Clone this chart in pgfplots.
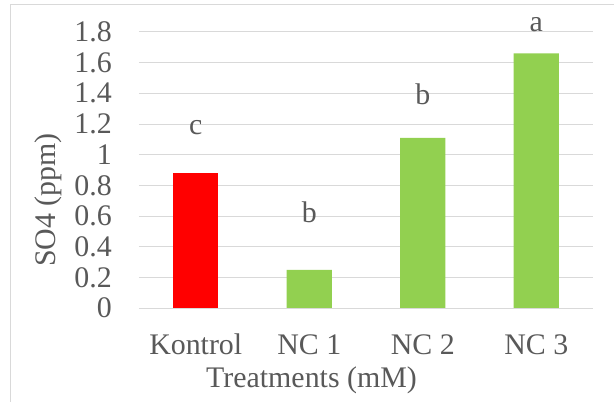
\documentclass[border=0pt]{standalone}
\usepackage{pgfplots}
\pgfplotsset{compat=1.18}
\usepackage{fontspec}
\setmainfont{Liberation Serif}
\definecolor{txt}{HTML}{595959}
\definecolor{grd}{HTML}{D9D9D9}
\definecolor{barred}{HTML}{FF0000}
\definecolor{bargreen}{HTML}{92D050}
\begin{document}
\begin{tikzpicture}
\path[use as bounding box] (-139bp,-94bp) rectangle (475bp,308bp);
\draw[grd, line width=1bp] (-128bp,-95bp) -- (-128bp,303bp) -- (476bp,303bp);
\begin{axis}[
  name=ax, at={(0,0)}, anchor=south west,
  scale only axis, width=454bp, height=276bp,
  xmin=-0.5, xmax=3.5, ymin=0, ymax=1.8,
  xtick={0,1,2,3}, xticklabels={Kontrol,NC 1,NC 2,NC 3},
  ytick={0,0.2,...,1.8},
  yticklabels={0,0.2,0.4,0.6,0.8,1,1.2,1.4,1.6,1.8},
  ymajorgrids, grid style={grd, line width=1bp},
  axis line style={draw=none},
  axis x line*=bottom,
  major tick length=0pt,
  tick style={draw=none},
  font=\fontsize{30}{36}\selectfont,
  every tick label/.append style={font=\fontsize{30}{36}\selectfont, text=txt},
  xticklabel style={anchor=base, inner sep=0pt, yshift=-46bp},
  yticklabel style={anchor=east, inner sep=0pt, xshift=-27bp},
  /pgf/number format/assume math mode=true,
  xlabel={\textcolor{txt}{Treatments (mM)}}, ylabel={\textcolor{txt}{SO4 (ppm)}},
  every axis x label/.style={at={(axis description cs:0.380,-0.261)}, anchor=center, inner sep=0pt, text=txt, font=\fontsize{30}{36}\selectfont},
  every axis y label/.style={at={(axis description cs:-0.200,0.391)}, rotate=90, anchor=center, inner sep=0pt, text=txt, font=\fontsize{30}{36}\selectfont},
  clip=false,
  ybar, bar width=0.4, bar shift=0pt,
]
\addplot[fill=barred, draw=none] coordinates {(0,0.878)};
\addplot[fill=bargreen, draw=none] coordinates {(1,0.248) (2,1.109) (3,1.661)};
\draw[grd, line width=1bp] (axis cs:-0.5,0) -- (axis cs:3.5,0);
\node[text=txt, inner sep=0pt, anchor=center, font=\fontsize{30}{36}\selectfont] at (axis cs:0,1.174) {c};
\node[text=txt, inner sep=0pt, anchor=center, font=\fontsize{30}{36}\selectfont] at (axis cs:1,0.625) {b};
\node[text=txt, inner sep=0pt, anchor=center, font=\fontsize{30}{36}\selectfont] at (axis cs:2,1.396) {b};
\node[text=txt, inner sep=0pt, anchor=center, font=\fontsize{30}{36}\selectfont] at (axis cs:3,1.847) {a};
\end{axis}
\end{tikzpicture}
\end{document}
